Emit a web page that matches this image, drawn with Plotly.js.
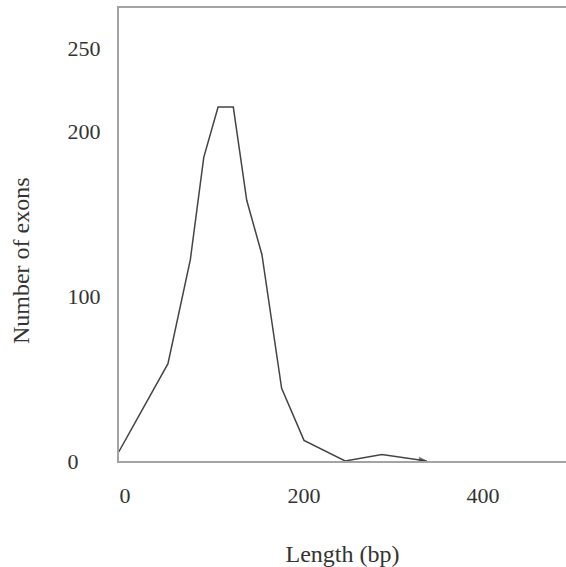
<!DOCTYPE html>
<html>
<head>
<meta charset="utf-8">
<script src="https://cdn.plot.ly/plotly-3.0.1.min.js"></script>
<style>html,body{margin:0;padding:0;background:#fff;}#chart{width:566px;height:567px;}</style>
</head>
<body>
<div id="chart"></div>
<script>
// Exon length distribution
var lengthBp = [-7, 48, 73, 88, 104, 121, 136, 153, 175, 200, 246, 287, 337];
var exonCount = [5.5, 59, 122, 184, 214.5, 214.5, 158, 125, 44, 12.5, 0, 4, 0];
var xTickVals = [0, 200, 400];
var xTickText = ["0", "200", "400"];
var yTickVals = [0, 100, 200, 250];
var yTickText = ["0\u2007\u2007", "100", "200", "250"];
var xTitle = 'Length (bp)';
var yTitle = 'Number of exons';

var markerSizes = lengthBp.map(function (v, i) { return i === lengthBp.length - 1 ? 8 : 0; });

var trace = {
  x: lengthBp,
  y: exonCount,
  type: 'scatter',
  mode: 'lines+markers',
  line: {color: '#444', width: 1.5},
  marker: {size: markerSizes, symbol: 'arrow', angleref: 'previous', color: '#333'},
  hoverinfo: 'skip',
  cliponaxis: false
};

var font = {family: '"Liberation Serif", "Times New Roman", serif', size: 22, color: '#333'};
var titleFont = {family: '"Liberation Serif", "Times New Roman", serif', size: 24, color: '#333'};

var layout = {
  width: 566,
  height: 567,
  margin: {l: 119, r: 0, t: 8, b: 106},
  paper_bgcolor: '#fff',
  plot_bgcolor: '#fff',
  showlegend: false,
  font: font,
  xaxis: {
    range: [-6.7, 492.7],
    tickvals: xTickVals,
    ticktext: xTickText,
    ticks: '',
    showgrid: false,
    zeroline: false,
    showline: true,
    mirror: true,
    linecolor: '#a3a3a3',
    linewidth: 2,
    ticklabelstandoff: 14,
    tickfont: font,
    title: {text: xTitle, font: titleFont, standoff: 48}
  },
  yaxis: {
    range: [0, 274.5],
    tickvals: yTickVals,
    ticktext: yTickText,
    ticks: '',
    showgrid: false,
    zeroline: false,
    showline: true,
    linecolor: '#a3a3a3',
    linewidth: 2,
    ticklabelstandoff: 12,
    tickfont: font
  },
  annotations: [{
    text: yTitle,
    xref: 'paper', yref: 'paper',
    x: -0.219, y: 0.4415,
    xanchor: 'center', yanchor: 'middle',
    textangle: -90,
    showarrow: false,
    font: titleFont
  }]
};

Plotly.newPlot('chart', [trace], layout, {displayModeBar: false, staticPlot: true});
</script>
</body>
</html>
